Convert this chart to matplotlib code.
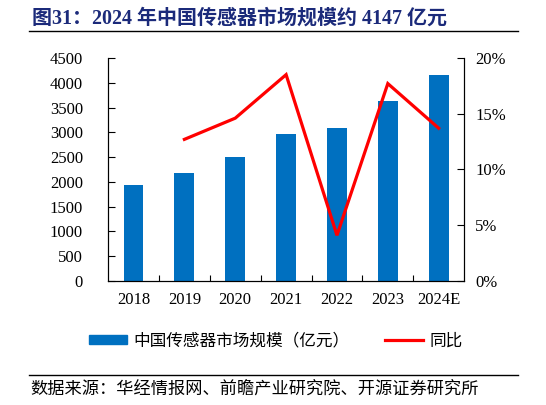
import matplotlib.pyplot as plt
import numpy as np
from matplotlib.lines import Line2D
from matplotlib.patches import Patch
from matplotlib.ticker import FuncFormatter

years = ["2018", "2019", "2020", "2021", "2022", "2023", "2024E"]
market_size = [1934, 2183, 2500, 2965, 3086, 3639, 4147]
yoy_years = ["2019", "2020", "2021", "2022", "2023", "2024E"]
yoy_pct = [12.7, 14.6, 18.5, 4.1, 17.7, 13.7]

title = "图31：2024 年中国传感器市场规模约 4147 亿元"
source = "数据来源：华经情报网、前瞻产业研究院、开源证券研究所"
bar_label = "中国传感器市场规模（亿元）"
line_label = "同比"

cjk = ["Noto Sans CJK SC", "DejaVu Sans"]
serif = ["Liberation Serif", "DejaVu Serif"]
serif_cjk = ["Liberation Serif", "Noto Sans CJK SC"]
blue = "#0070C0"
red = "#FF0000"
navy = "#1B2A7A"

fig = plt.figure(figsize=(5.46, 4.05), dpi=100)
ax = fig.add_axes([0.198, 0.306, 0.652, 0.551])
ax2 = ax.twinx()

x = np.arange(len(years))
ax.bar(x, market_size, width=0.39, color=blue, zorder=2)
ax2.plot([years.index(y) for y in yoy_years], yoy_pct, color=red, linewidth=2.3,
         solid_joinstyle="miter", zorder=3)

ax.set_xlim(-0.5, len(years) - 0.5)
ax.set_ylim(0, 4500)
ax.set_yticks(np.arange(0, 4501, 500))
ax2.set_ylim(0, 20)
ax2.set_yticks(np.arange(0, 21, 5))
ax2.yaxis.set_major_formatter(FuncFormatter(lambda v, _: f"{v:.0f}%"))

ax.set_xticks(x)
ax.set_xticklabels(years)
ax.set_xticks(np.arange(0.5, len(years) - 1, 1), minor=True)
ax.tick_params(axis="x", which="major", length=0, pad=8)
ax.tick_params(axis="x", which="minor", direction="in", length=4, width=0.8)
ax.tick_params(axis="y", direction="in", length=5, width=0.8, pad=18)
ax2.tick_params(axis="y", direction="in", length=5, width=0.8, pad=8)

for a in (ax, ax2):
    for side in ("left", "right", "bottom"):
        a.spines[side].set_linewidth(0.8)
    a.spines["top"].set_visible(False)
    for lab in a.get_xticklabels() + a.get_yticklabels():
        lab.set_fontfamily(serif)
        lab.set_fontsize(12)

fig.text(0.058, 0.955, title, fontsize=14.4, fontweight="bold", color=navy,
         family=serif_cjk, va="center", ha="left")
fig.add_artist(Line2D([0.053, 0.949], [0.923, 0.923], color="black", linewidth=1.0))
fig.add_artist(Line2D([0.053, 0.949], [0.074, 0.074], color="black", linewidth=1.0))
fig.text(0.055, 0.037, source, fontsize=12.4, family=cjk, va="center", ha="left")

handles = [Patch(facecolor=blue, edgecolor=blue),
           Line2D([0], [0], color=red, linewidth=2.3)]
fig.legend(handles, [bar_label, line_label], loc="center", bbox_to_anchor=(0.505, 0.158),
           ncol=2, frameon=False, prop={"family": cjk, "size": 12},
           handlelength=2.3, handleheight=0.5, columnspacing=2.1, handletextpad=0.4)

fig.savefig("out.png", dpi=100)
